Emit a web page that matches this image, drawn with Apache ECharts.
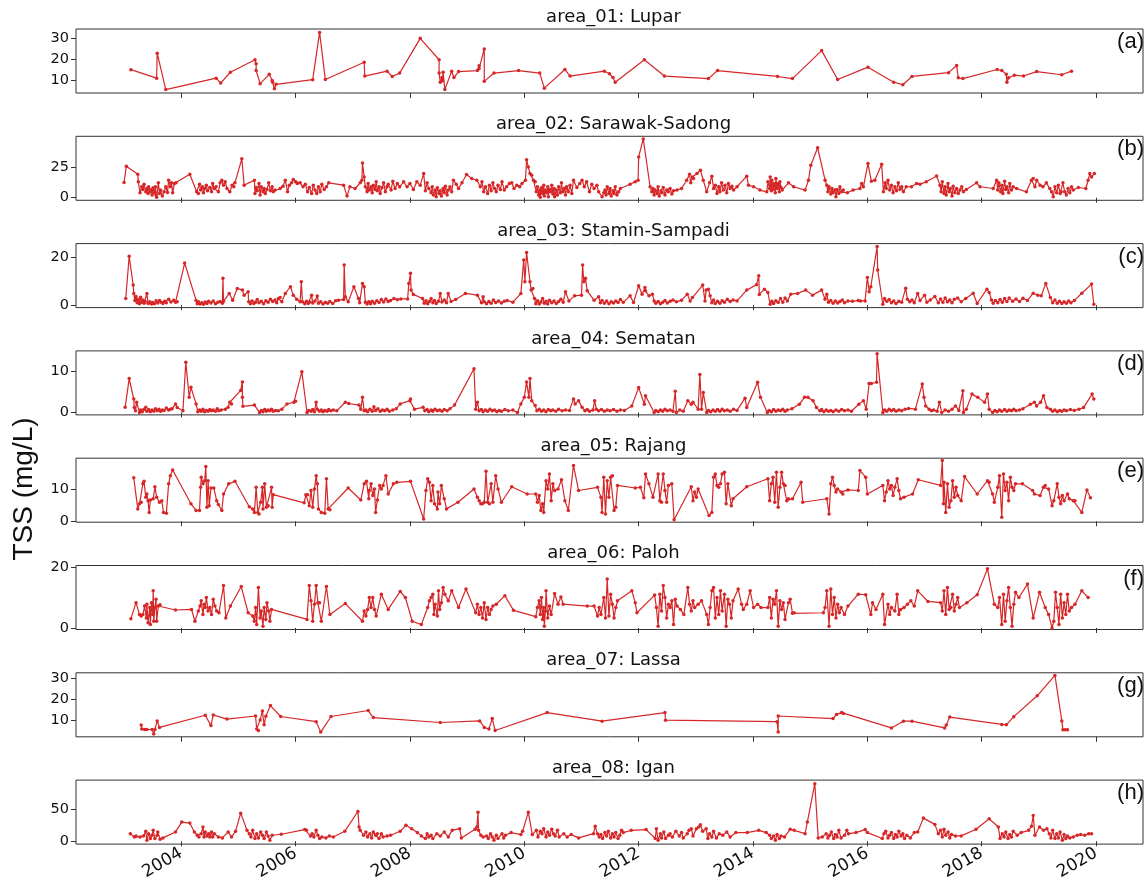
<!DOCTYPE html>
<html>
<head>
<meta charset="utf-8">
<script src="https://cdn.jsdelivr.net/npm/echarts@6/dist/echarts.min.js"></script>
<style>
html,body{margin:0;padding:0;background:#fff;}
#chart{width:1148px;height:883px;}
</style>
</head>
<body>
<div id="chart"></div>
<script>
// ---------------- DATA ----------------
const titles = ['area_01: Lupar','area_02: Sarawak-Sadong','area_03: Stamin-Sampadi','area_04: Sematan','area_05: Rajang','area_06: Paloh','area_07: Lassa','area_08: Igan'];
const panelLabels = ['(a)','(b)','(c)','(d)','(e)','(f)','(g)','(h)'];
const yAxisName = 'TSS (mg/L)';
const xTicks = [2004,2006,2008,2010,2012,2014,2016,2018,2020];
const xRange = [2002.16, 2020.82];
const yTicks = [[10,20,30],[0,25],[0,20],[0,10],[0,10],[0,20],[10,20,30],[0,50]];
const yRanges = [[4.2,34.4],[-2.1,49.9],[-1.0,25.7],[-0.6,15.1],[-0.3,19.9],[-0.5,20.5],[1.9,32.4],[-4.5,94.5]];

const area01 = [[2003.12,15.2],[2003.57,11.2],[2003.58,23.0],[2003.73,5.8],[2004.61,11.2],[2004.69,8.9],[2004.86,14.0],[2005.29,19.9],[2005.31,18.0],[2005.31,14.8],[2005.38,8.6],[2005.54,13.0],[2005.59,10.1],[2005.6,9.3],[2005.63,6.2],[2005.66,8.3],[2006.3,10.5],[2006.42,32.8],[2006.52,10.6],[2007.2,18.7],[2007.21,12.2],[2007.6,14.5],[2007.69,12.0],[2007.82,13.6],[2008.18,30.0],[2008.51,19.9],[2008.51,13.6],[2008.53,9.3],[2008.56,11.5],[2008.57,10.0],[2008.58,14.0],[2008.61,5.8],[2008.73,14.5],[2008.77,11.5],[2008.85,14.3],[2009.18,14.8],[2009.21,17.0],[2009.21,15.8],[2009.3,25.0],[2009.3,9.7],[2009.47,13.6],[2009.9,14.8],[2010.27,13.6],[2010.35,6.5],[2010.71,15.3],[2010.8,12.2],[2011.4,14.5],[2011.49,13.3],[2011.55,11.5],[2011.59,9.3],[2012.1,19.9],[2012.45,12.2],[2013.22,11.0],[2013.38,14.8],[2014.43,12.0],[2014.69,11.0],[2015.2,24.2],[2015.48,10.6],[2016.01,16.4],[2016.46,9.3],[2016.62,8.1],[2016.78,12.0],[2017.42,13.8],[2017.56,17.2],[2017.59,11.4],[2017.67,11.0],[2018.27,15.3],[2018.35,14.8],[2018.43,13.0],[2018.44,9.3],[2018.47,11.4],[2018.57,12.6],[2018.73,12.2],[2018.96,14.3],[2019.4,12.8],[2019.57,14.5]];

const area02 = [[2003.0,12.4],[2003.04,25.5],[2003.24,19.1],[2003.25,12.9],[2003.28,4.0],[2003.31,8.9],[2003.33,6.7],[2003.35,11.0],[2003.38,4.8],[2003.4,7.5],[2003.42,3.5],[2003.43,8.9],[2003.46,4.8],[2003.48,6.7],[2003.49,2.2],[2003.51,8.1],[2003.53,4.0],[2003.55,8.9],[2003.56,2.2],[2003.57,0.3],[2003.6,12.1],[2003.62,3.5],[2003.64,6.2],[2003.67,1.3],[2003.7,4.8],[2003.73,8.9],[2003.76,4.3],[2003.78,14.2],[2003.81,8.9],[2003.83,12.1],[2003.85,4.0],[2003.88,11.6],[2003.91,12.1],
[2004.15,19.1],[2004.27,4.8],[2004.3,3.5],[2004.32,11.0],[2004.34,6.2],[2004.37,8.9],[2004.39,4.0],[2004.41,7.5],[2004.44,10.2],[2004.46,5.6],[2004.5,8.3],[2004.53,4.8],[2004.55,11.6],[2004.58,7.5],[2004.61,8.9],[2004.65,4.8],[2004.68,12.1],[2004.71,14.2],[2004.74,10.2],[2004.77,12.9],[2004.8,7.5],[2004.85,4.8],[2004.89,10.2],[2004.92,8.9],[2004.94,12.1],
[2005.06,31.7],[2005.1,10.2],[2005.28,14.2],[2005.29,3.5],[2005.31,8.3],[2005.33,5.6],[2005.36,11.6],[2005.38,2.2],[2005.4,8.9],[2005.43,4.8],[2005.45,7.5],[2005.47,3.5],[2005.5,6.7],[2005.53,12.1],[2005.56,5.6],[2005.59,8.9],[2005.61,4.8],[2005.64,6.2],
[2005.73,7.5],[2005.78,9.4],[2005.82,14.2],[2005.86,4.8],[2005.89,10.2],[2005.93,12.1],[2005.96,14.8],[2006.0,12.9],[2006.03,11.6],[2006.08,12.1],[2006.13,8.9],[2006.17,11.0],[2006.21,4.8],[2006.24,8.3],[2006.28,3.5],[2006.31,10.2],[2006.34,6.2],[2006.37,3.5],[2006.4,8.9],[2006.43,4.8],[2006.46,11.0],[2006.5,6.7],[2006.54,8.9],[2006.58,12.1],
[2006.84,10.2],[2006.9,1.3],[2006.95,8.9],[2007.04,7.5],[2007.13,12.1],[2007.16,14.2],[2007.17,28.2],[2007.2,16.9],[2007.22,8.9],[2007.25,4.8],[2007.27,11.6],[2007.29,6.2],[2007.32,8.9],[2007.34,4.0],[2007.36,10.2],[2007.39,6.7],[2007.41,12.9],[2007.43,5.6],[2007.46,8.9],[2007.48,3.5],[2007.51,8.1],[2007.54,12.1],[2007.57,4.8],[2007.6,8.9],[2007.62,11.0],[2007.67,6.2],[2007.7,13.4],[2007.74,7.5],[2007.78,11.6],[2007.82,8.9],
[2007.89,12.9],[2007.95,8.9],[2008.0,11.6],[2008.06,6.7],[2008.12,12.9],[2008.18,10.2],[2008.24,19.6],[2008.27,5.6],[2008.3,12.1],[2008.33,7.5],[2008.37,4.0],[2008.39,8.9],[2008.41,2.2],[2008.44,6.2],[2008.46,0.8],[2008.48,8.1],[2008.51,3.5],[2008.53,5.6],[2008.55,1.3],[2008.58,7.5],[2008.6,4.0],[2008.62,9.4],[2008.65,2.2],[2008.67,6.2],[2008.7,8.9],[2008.73,4.8],[2008.76,14.2],[2008.81,11.0],[2008.85,7.5],[2008.91,12.1],[2008.99,18.8],[2009.08,15.6],[2009.17,14.2],[2009.23,8.9],[2009.26,12.9],[2009.29,4.8],[2009.32,8.9],[2009.36,3.5],[2009.39,10.2],[2009.42,5.6],[2009.45,12.1],[2009.48,7.5],[2009.51,4.8],[2009.54,10.2],[2009.58,6.7],[2009.61,12.9],[2009.65,6.2],[2009.69,8.9],[2009.74,11.6],[2009.78,12.1],[2009.82,7.5],[2009.87,10.2],[2009.92,8.9],[2009.96,11.6],[2010.02,14.2],
[2010.04,30.9],[2010.07,25.0],[2010.1,19.6],[2010.13,18.3],[2010.16,14.2],[2010.19,12.9],[2010.21,4.8],[2010.23,8.9],[2010.25,2.2],[2010.27,6.2],[2010.28,0.3],[2010.3,8.1],[2010.32,3.5],[2010.34,10.2],[2010.35,1.3],[2010.37,6.2],[2010.39,4.0],[2010.41,8.9],[2010.42,0.8],[2010.44,6.7],[2010.46,4.8],[2010.48,10.2],[2010.5,3.0],[2010.52,7.5],[2010.53,0.8],[2010.56,6.2],[2010.58,2.2],[2010.6,8.9],[2010.63,4.0],[2010.65,12.1],[2010.67,4.8],[2010.7,7.5],[2010.72,2.2],[2010.74,8.9],[2010.77,4.8],[2010.8,10.2],[2010.83,3.5],
[2010.86,14.2],[2010.92,8.3],[2010.97,11.6],[2011.01,14.2],[2011.05,8.9],[2011.09,12.9],[2011.14,4.8],[2011.18,11.0],[2011.22,7.5],[2011.27,10.2],[2011.3,4.8],[2011.36,0.8],[2011.39,4.0],[2011.41,6.2],[2011.43,2.2],[2011.45,8.9],[2011.48,3.5],[2011.5,7.5],[2011.52,1.3],[2011.55,5.6],[2011.57,3.5],[2011.59,8.9],[2011.62,2.2],[2011.65,4.8],[2011.68,7.5],
[2011.85,11.0],[2011.94,12.9],[2011.99,14.2],[2012.0,33.1],[2012.08,47.8],[2012.2,8.9],[2012.23,4.8],[2012.25,7.5],[2012.27,2.2],[2012.29,6.2],[2012.32,3.5],[2012.34,8.9],[2012.36,1.3],[2012.39,5.6],[2012.41,4.0],[2012.43,8.3],[2012.46,2.2],[2012.49,6.2],[2012.52,4.8],[2012.55,7.5],[2012.58,3.0],[2012.61,5.6],[2012.67,6.2],[2012.75,7.5],[2012.84,14.2],[2012.89,19.1],[2012.91,12.1],[2012.94,16.9],[2012.96,15.6],[2013.02,19.6],[2013.08,22.3],[2013.13,14.2],[2013.19,4.8],[2013.24,12.1],[2013.28,17.5],[2013.31,7.5],[2013.34,10.2],[2013.37,3.5],[2013.4,8.9],[2013.42,4.8],[2013.45,12.1],[2013.48,6.2],[2013.51,10.2],[2013.54,4.0],[2013.57,11.6],[2013.6,7.5],[2013.63,9.4],[2013.66,6.2],[2013.72,8.9],
[2013.89,17.5],[2013.92,10.2],[2014.01,8.9],[2014.12,6.2],[2014.24,4.8],[2014.26,12.9],[2014.29,7.5],[2014.3,16.9],[2014.32,5.6],[2014.33,14.2],[2014.35,6.7],[2014.37,11.6],[2014.39,4.0],[2014.4,15.6],[2014.42,7.5],[2014.44,11.6],[2014.46,4.8],[2014.47,12.9],[2014.49,8.3],[2014.51,6.2],[2014.62,12.1],[2014.71,8.9],
[2014.91,6.2],[2014.97,14.2],[2015.01,26.3],[2015.13,40.6],[2015.26,14.2],[2015.29,10.2],[2015.31,4.8],[2015.33,8.9],[2015.36,3.0],[2015.38,7.5],[2015.4,4.0],[2015.43,6.2],[2015.45,0.8],[2015.47,6.7],[2015.5,3.5],[2015.52,8.9],[2015.55,4.8],[2015.58,6.2],[2015.65,4.0],[2015.75,6.2],[2015.87,7.5],[2015.9,11.6],[2015.93,8.9],[2016.01,27.7],[2016.07,13.4],[2016.13,14.2],[2016.25,27.2],[2016.28,4.8],[2016.31,12.1],[2016.33,7.5],[2016.36,14.2],[2016.39,6.2],[2016.42,10.2],[2016.45,4.0],[2016.48,8.9],[2016.51,5.6],[2016.54,12.1],[2016.57,6.7],[2016.6,8.9],[2016.63,4.8],[2016.68,8.9],[2016.77,8.9],[2016.86,11.6],[2016.92,11.0],[2017.03,12.9],[2017.21,17.7],[2017.27,10.2],[2017.29,4.8],[2017.31,12.9],[2017.34,3.5],[2017.36,8.9],[2017.38,2.2],[2017.41,11.6],[2017.43,4.8],[2017.45,7.5],[2017.48,1.3],[2017.5,9.4],[2017.53,4.0],[2017.56,7.5],[2017.59,3.5],[2017.62,6.2],[2017.65,8.9],[2017.68,4.8],[2017.73,6.7],
[2017.91,12.1],[2017.97,8.9],[2018.2,7.5],[2018.26,14.2],[2018.28,6.2],[2018.3,12.1],[2018.33,4.8],[2018.35,10.2],[2018.37,3.5],[2018.4,13.4],[2018.42,6.7],[2018.44,8.9],[2018.47,4.0],[2018.49,11.6],[2018.52,6.2],[2018.55,8.9],[2018.61,7.5],[2018.78,4.8],[2018.87,14.2],[2018.9,15.6],[2018.93,8.9],[2018.96,14.2],[2019.02,10.2],[2019.07,8.9],[2019.13,12.1],[2019.19,7.5],[2019.22,4.8],[2019.25,0.8],[2019.28,8.9],[2019.31,4.0],[2019.34,10.2],[2019.37,3.5],[2019.39,4.8],[2019.42,12.1],[2019.45,4.8],[2019.48,2.2],[2019.51,7.5],[2019.54,4.0],[2019.57,8.9],[2019.6,6.2],[2019.69,8.3],[2019.82,7.5],[2019.86,14.2],[2019.89,19.6],[2019.92,16.9],[2019.97,19.6]];

const area03 = [[2003.03,2.8],[2003.09,20.4],[2003.16,8.4],[2003.17,4.9],[2003.19,2.0],[2003.21,3.6],[2003.23,1.0],[2003.25,2.4],[2003.27,0.6],[2003.29,3.3],[2003.31,1.2],[2003.33,2.2],[2003.35,0.8],[2003.37,1.5],[2003.4,4.9],[2003.42,0.7],[2003.45,1.4],[2003.48,0.5],[2003.5,1.1],[2003.53,0.6],[2003.56,1.9],[2003.59,0.9],[2003.62,2.0],[2003.65,1.2],[2003.68,0.7],[2003.71,1.6],[2003.74,1.0],[2003.78,2.5],[2003.82,1.3],[2003.87,2.1],[2003.9,1.2],[2003.93,1.4],
[2004.06,17.6],[2004.26,2.0],[2004.28,0.6],[2004.3,1.4],[2004.33,0.5],[2004.36,1.0],[2004.39,0.4],[2004.42,1.3],[2004.45,0.7],[2004.48,1.6],[2004.52,0.9],[2004.56,1.8],[2004.6,0.6],[2004.64,1.2],[2004.68,1.5],[2004.72,0.8],[2004.73,11.2],[2004.74,1.6],[2004.84,4.9],[2004.9,2.1],[2004.98,7.0],[2005.07,6.3],[2005.1,4.2],[2005.17,5.6],[2005.18,1.4],[2005.21,0.6],[2005.24,1.8],[2005.27,0.7],[2005.3,1.2],[2005.33,2.4],[2005.36,1.0],[2005.4,1.6],[2005.44,0.6],[2005.48,1.9],[2005.52,1.2],[2005.56,2.5],[2005.6,1.5],[2005.64,2.2],[2005.67,1.0],[2005.7,2.8],[2005.73,3.2],[2005.76,1.4],[2005.82,4.9],[2005.91,7.7],[2005.96,4.2],[2006.02,2.5],[2006.08,1.4],[2006.1,9.8],[2006.12,1.4],[2006.16,0.6],[2006.19,1.6],[2006.22,0.7],[2006.25,1.3],[2006.28,4.2],[2006.3,0.9],[2006.34,1.8],[2006.38,3.8],[2006.4,0.8],[2006.44,1.4],[2006.48,0.5],[2006.52,1.2],[2006.56,0.8],[2006.6,1.5],[2006.65,0.7],[2006.7,1.9],[2006.75,2.1],[2006.84,2.4],[2006.85,16.8],[2006.87,3.5],[2006.92,1.4],[2007.02,7.7],[2007.1,2.8],[2007.12,1.0],[2007.17,9.1],[2007.2,7.7],[2007.22,1.2],[2007.25,0.5],[2007.28,1.4],[2007.31,0.6],[2007.34,1.7],[2007.38,0.8],[2007.42,1.9],[2007.46,1.1],[2007.5,2.4],[2007.54,1.3],[2007.58,2.6],[2007.62,1.5],[2007.66,2.0],[2007.72,2.8],[2007.78,2.3],[2007.84,2.6],[2007.96,2.6],[2007.98,9.1],[2008.01,13.3],[2008.02,6.3],[2008.06,4.5],[2008.22,2.8],[2008.25,0.8],[2008.28,1.9],[2008.31,0.6],[2008.34,1.5],[2008.37,2.8],[2008.4,1.0],[2008.43,2.0],[2008.46,0.7],[2008.5,1.6],[2008.53,4.9],[2008.56,1.3],[2008.6,2.2],[2008.64,1.0],[2008.67,4.9],[2008.72,1.5],[2008.8,2.4],[2008.97,4.9],[2009.18,4.2],[2009.25,1.0],[2009.28,3.5],[2009.3,1.4],[2009.34,0.6],[2009.38,1.5],[2009.42,0.8],[2009.46,2.2],[2009.5,1.1],[2009.55,1.8],[2009.6,0.9],[2009.65,1.6],[2009.7,2.0],[2009.8,1.2],[2009.94,4.9],[2009.99,18.9],[2010.01,9.8],[2010.04,22.0],[2010.1,9.8],[2010.12,6.3],[2010.15,7.0],[2010.18,2.8],[2010.2,0.6],[2010.23,1.9],[2010.26,0.5],[2010.29,1.3],[2010.32,2.8],[2010.35,0.8],[2010.38,1.6],[2010.41,0.5],[2010.44,2.1],[2010.48,1.0],[2010.52,1.8],[2010.56,0.7],[2010.6,1.5],[2010.64,2.5],[2010.68,1.2],[2010.72,5.6],[2010.78,1.8],[2010.88,3.9],[2011.0,4.2],[2011.02,16.8],[2011.04,9.8],[2011.07,11.2],[2011.1,6.0],[2011.22,2.1],[2011.3,3.5],[2011.33,1.0],
[2011.36,2.0],[2011.4,0.8],[2011.44,1.8],[2011.48,0.6],[2011.52,1.4],[2011.56,0.9],[2011.6,1.8],[2011.64,1.1],[2011.68,2.4],[2011.73,1.2],[2011.85,3.9],[2011.91,1.1],[2012.0,8.1],[2012.06,4.6],[2012.11,7.4],[2012.12,6.0],[2012.18,3.9],[2012.24,4.6],[2012.27,1.8],[2012.3,0.8],[2012.34,1.5],[2012.38,0.6],[2012.42,1.2],[2012.46,2.0],[2012.5,0.9],[2012.55,1.6],[2012.6,2.2],[2012.66,1.4],[2012.75,2.1],[2012.85,4.6],[2012.9,1.8],[2012.94,3.2],[2013.12,8.4],[2013.16,1.8],[2013.18,6.3],[2013.22,6.7],[2013.25,3.9],[2013.28,1.0],[2013.31,2.2],[2013.34,0.7],[2013.38,1.6],[2013.42,0.8],[2013.46,1.9],[2013.5,1.2],[2013.55,2.5],[2013.6,1.5],[2013.65,2.2],[2013.72,1.8],[2013.89,6.3],[2014.06,8.5],[2014.1,12.3],[2014.11,4.5],[2014.2,6.7],[2014.26,5.3],[2014.3,0.4],[2014.33,1.6],[2014.36,0.7],[2014.4,1.9],[2014.44,1.1],[2014.48,2.8],[2014.52,1.2],[2014.56,3.0],[2014.6,1.8],[2014.66,4.6],[2014.78,4.9],[2014.92,6.3],[2015.04,4.2],[2015.2,6.3],[2015.26,2.5],[2015.29,4.6],[2015.32,1.2],[2015.36,2.0],[2015.4,0.8],[2015.44,1.8],[2015.48,0.9],[2015.52,1.5],[2015.56,2.2],[2015.6,1.0],[2015.66,1.8],[2015.74,1.6],[2015.84,2.0],[2015.88,1.8],[2015.96,1.8],[2016.0,11.6],[2016.03,5.6],[2016.06,7.7],[2016.17,24.5],[2016.18,14.7],[2016.27,0.4],[2016.3,2.8],[2016.34,1.6],[2016.38,2.4],[2016.42,1.0],[2016.46,1.8],[2016.5,0.7],[2016.55,1.6],[2016.6,1.2],[2016.67,7.1],[2016.7,2.5],[2016.74,1.4],[2016.78,2.2],[2016.82,1.0],[2016.88,4.9],[2016.92,2.0],[2017.0,4.2],[2017.04,1.2],[2017.1,2.2],[2017.18,3.6],[2017.24,1.0],[2017.28,2.6],[2017.32,1.2],[2017.36,3.0],[2017.4,1.4],[2017.44,2.2],[2017.48,1.0],[2017.52,2.5],[2017.58,3.0],[2017.64,1.4],[2017.72,2.8],[2017.85,5.0],[2017.92,0.7],[2018.09,6.7],[2018.13,5.3],[2018.17,2.2],[2018.2,0.8],[2018.24,2.0],[2018.28,1.0],[2018.32,2.4],[2018.36,1.2],[2018.4,2.8],[2018.44,1.5],[2018.48,3.0],[2018.54,1.7],[2018.6,2.6],[2018.66,1.5],[2018.72,2.9],[2018.8,2.0],[2018.9,5.0],[2018.98,4.2],[2019.04,3.9],[2019.12,9.1],[2019.2,3.2],[2019.24,1.0],[2019.28,2.2],[2019.32,0.8],[2019.36,1.6],[2019.4,0.7],[2019.44,1.4],[2019.48,0.8],[2019.52,1.8],[2019.56,1.0],[2019.62,2.0],[2019.75,5.0],[2019.92,8.8],[2019.96,0.4]];

const area04 = [[2003.02,1.25],[2003.09,8.3],[2003.17,3.3],[2003.18,1.2],[2003.2,0.4],[2003.22,2.5],[2003.27,0.0],[2003.29,0.6],[2003.32,0.2],[2003.35,0.8],[2003.38,1.25],[2003.4,0.3],[2003.43,0.7],[2003.46,0.2],[2003.49,0.6],[2003.52,0.3],[2003.55,0.9],[2003.58,0.4],[2003.61,0.8],[2003.64,0.3],[2003.67,0.6],[2003.7,0.5],[2003.74,1.1],[2003.78,0.6],[2003.81,0.8],[2003.84,0.9],[2003.9,2.1],[2003.93,1.2],[2004.03,0.4],[2004.08,12.3],[2004.14,3.7],[2004.17,6.2],[2004.26,2.1],[2004.29,0.2],[2004.32,0.6],[2004.35,0.3],[2004.38,0.8],[2004.41,0.2],[2004.44,0.5],[2004.47,0.3],[2004.5,0.7],[2004.53,0.4],[2004.56,0.6],[2004.6,0.3],[2004.63,0.9],[2004.66,0.4],[2004.7,0.6],[2004.77,0.8],[2004.82,1.25],[2004.85,2.5],[2004.88,2.1],[2005.04,5.4],[2005.07,7.5],[2005.07,3.7],[2005.08,1.5],[2005.28,1.8],[2005.37,0.0],[2005.4,0.5],[2005.43,0.2],[2005.46,0.7],[2005.49,0.3],[2005.52,0.6],[2005.55,0.4],[2005.58,0.8],[2005.61,0.3],[2005.65,0.5],[2005.7,0.4],[2005.76,0.8],[2005.85,2.1],[2005.97,2.5],[2006.0,2.75],[2006.11,10.0],[2006.2,0.0],[2006.23,0.5],[2006.27,0.3],[2006.3,0.7],[2006.33,0.2],[2006.36,2.5],[2006.38,0.8],[2006.42,0.3],[2006.45,0.6],[2006.48,0.2],[2006.51,0.5],[2006.55,0.3],[2006.58,0.7],[2006.62,0.4],[2006.66,0.6],[2006.72,0.4],[2006.87,2.5],[2006.93,2.2],[2007.11,1.8],[2007.14,0.8],[2007.17,3.7],[2007.2,0.4],[2007.23,0.6],[2007.26,0.2],[2007.3,0.8],[2007.34,0.3],[2007.37,1.4],[2007.4,0.5],[2007.44,0.9],[2007.48,0.3],[2007.52,0.6],[2007.56,0.4],[2007.6,0.8],[2007.64,0.3],[2007.7,0.6],[2007.76,0.9],[2007.83,2.1],[2008.0,2.9],[2008.01,3.3],[2008.08,0.8],[2008.23,1.25],[2008.26,0.4],[2008.3,0.7],[2008.33,0.2],[2008.37,0.6],[2008.4,0.3],[2008.44,0.8],[2008.48,0.4],[2008.52,0.6],[2008.56,0.3],[2008.6,0.7],[2008.65,0.4],[2008.7,0.9],[2008.78,1.8],[2009.12,10.7],[2009.15,0.8],[2009.18,2.5],[2009.21,0.4],[2009.25,0.7],[2009.28,0.2],[2009.32,0.6],[2009.36,0.3],[2009.4,0.8],[2009.44,0.4],[2009.48,0.6],[2009.52,0.2],[2009.56,0.5],[2009.6,0.3],[2009.66,0.7],[2009.72,0.4],[2009.8,0.6],[2009.88,0.0],[2009.94,2.1],[2010.0,3.7],[2010.04,7.5],[2010.08,3.7],[2010.1,8.3],[2010.13,2.9],[2010.19,1.7],[2010.22,0.4],[2010.26,0.8],[2010.3,0.3],[2010.34,0.6],[2010.38,0.2],[2010.42,0.7],[2010.46,0.4],[2010.5,0.6],[2010.55,0.3],[2010.6,0.8],[2010.66,0.4],[2010.72,0.6],[2010.79,0.5],[2010.86,3.3],[2010.89,2.1],[2010.95,2.9],[2011.01,1.25],[2011.06,0.4],[2011.1,0.7],[2011.14,0.3],[2011.2,0.6],[2011.23,2.9],[2011.26,0.8],[2011.3,0.4],[2011.35,0.7],[2011.4,0.3],[2011.45,0.6],[2011.5,0.4],[2011.56,0.7],[2011.62,0.3],[2011.68,0.6],[2011.75,0.5],[2011.88,1.6],[2012.0,6.1],[2012.1,2.0],[2012.12,4.1],[2012.27,0.0],[2012.3,0.5],[2012.34,0.2],[2012.38,0.6],[2012.42,0.3],[2012.46,0.8],[2012.5,0.4],[2012.55,0.6],[2012.6,0.3],[2012.64,5.2],[2012.66,0.0],[2012.72,0.6],[2012.78,0.3],[2012.86,2.9],[2012.92,2.0],[2012.95,2.5],[2013.04,0.8],[2013.07,9.3],[2013.1,0.8],[2013.13,4.9],[2013.19,0.0],[2013.22,0.5],[2013.26,0.2],[2013.3,0.6],[2013.34,0.3],[2013.38,0.7],[2013.42,0.3],[2013.46,0.8],[2013.5,0.4],[2013.55,0.6],[2013.6,0.3],[2013.66,0.8],[2013.72,0.5],[2013.86,3.5],[2013.89,1.2],[2014.08,7.4],[2014.13,3.7],[2014.25,0.0],[2014.28,0.5],[2014.32,0.2],[2014.36,0.7],[2014.4,0.3],[2014.44,0.6],[2014.48,0.4],[2014.52,0.8],[2014.56,0.3],[2014.6,0.6],[2014.68,0.9],[2014.81,2.0],[2014.9,3.7],[2014.96,3.7],[2015.05,2.9],[2015.11,1.2],[2015.17,0.4],[2015.2,0.7],[2015.24,0.2],[2015.28,0.6],[2015.32,0.3],[2015.36,0.5],[2015.4,0.2],[2015.45,0.6],[2015.5,0.3],[2015.55,0.7],[2015.6,0.4],[2015.66,0.6],[2015.72,0.3],[2015.85,2.0],[2015.93,2.9],[2015.98,0.8],[2016.03,7.1],[2016.07,7.1],[2016.16,7.4],[2016.17,14.4],[2016.27,0.0],[2016.3,0.6],[2016.34,0.3],[2016.38,0.8],[2016.42,0.4],[2016.46,0.7],[2016.5,0.3],[2016.55,0.6],[2016.6,0.4],[2016.66,0.8],[2016.72,1.0],[2016.84,0.8],[2016.96,7.0],[2016.99,3.7],[2017.02,1.6],[2017.08,0.8],[2017.12,0.4],[2017.16,0.6],[2017.22,0.3],[2017.26,2.5],[2017.3,0.0],[2017.36,0.6],[2017.42,0.3],[2017.48,0.8],[2017.54,1.6],[2017.6,0.5],[2017.67,5.3],[2017.68,0.0],[2017.73,0.8],[2017.83,4.5],[2017.93,3.7],[2018.05,2.5],[2018.1,4.5],[2018.13,0.8],[2018.19,0.0],[2018.23,0.5],[2018.27,0.2],[2018.31,0.6],[2018.35,0.3],[2018.4,0.7],[2018.44,0.3],[2018.48,0.6],[2018.52,0.4],[2018.56,0.8],[2018.6,0.4],[2018.66,0.6],[2018.72,0.9],[2018.85,2.0],[2018.92,2.5],[2018.96,1.6],[2019.03,2.5],[2019.08,4.1],[2019.14,1.2],[2019.2,0.8],[2019.24,0.3],[2019.28,0.6],[2019.32,0.2],[2019.36,0.5],[2019.4,0.3],[2019.44,0.6],[2019.48,0.4],[2019.55,0.7],[2019.62,0.5],[2019.7,0.8],[2019.78,1.2],[2019.93,4.5],[2019.96,3.3]];

const area05 = [[2003.17,13.7],[2003.24,3.9],[2003.27,5.5],[2003.3,6.0],[2003.33,11.8],[2003.35,12.6],[2003.38,7.6],[2003.4,8.6],[2003.42,6.5],[2003.44,2.8],[2003.46,6.7],[2003.51,7.1],[2003.54,10.9],[2003.57,7.6],[2003.62,6.0],[2003.66,6.5],[2003.69,2.8],[2003.74,2.5],[2003.78,11.8],[2003.81,14.4],[2003.85,16.2],[2004.17,5.5],[2004.26,3.4],[2004.32,3.4],[2004.34,10.7],[2004.35,13.9],[2004.38,11.8],[2004.41,12.8],[2004.43,17.3],[2004.45,4.4],[2004.47,12.8],[2004.49,4.9],[2004.52,10.5],[2004.57,10.5],[2004.62,6.5],[2004.65,5.3],[2004.71,3.4],[2004.74,8.6],[2004.83,11.8],[2004.94,12.6],[2005.19,4.6],[2005.25,3.9],[2005.28,2.8],[2005.31,10.7],[2005.34,2.8],[2005.36,2.3],[2005.39,6.0],[2005.42,10.7],[2005.43,3.9],[2005.46,11.8],[2005.49,4.4],[2005.52,4.9],[2005.58,10.7],[2005.59,4.4],[2005.61,8.4],[2006.15,5.8],[2006.18,8.4],[2006.21,8.4],[2006.24,4.9],[2006.27,9.7],[2006.3,4.4],[2006.33,10.2],[2006.36,14.4],[2006.38,11.8],[2006.4,3.9],[2006.45,2.8],[2006.51,2.5],[2006.54,13.4],[2006.57,3.9],[2006.6,3.6],[2006.92,10.5],[2007.14,6.7],[2007.2,11.8],[2007.24,12.6],[2007.28,7.1],[2007.29,9.7],[2007.32,11.8],[2007.35,8.1],[2007.38,10.2],[2007.4,2.8],[2007.43,6.7],[2007.47,11.3],[2007.5,10.2],[2007.53,11.3],[2007.58,14.4],[2007.62,8.6],[2007.71,11.8],[2007.77,12.3],[2008.01,12.6],[2008.24,0.7],[2008.28,9.7],[2008.31,13.4],[2008.34,12.3],[2008.37,6.5],[2008.4,11.3],[2008.43,5.5],[2008.48,3.9],[2008.49,9.2],[2008.52,5.5],[2008.55,11.3],[2008.6,7.1],[2008.64,3.9],[2008.84,6.0],[2009.12,10.2],[2009.18,7.6],[2009.21,6.5],[2009.24,5.5],[2009.27,5.5],[2009.3,6.0],[2009.33,15.8],[2009.36,6.0],[2009.39,5.5],[2009.42,11.8],[2009.45,6.0],[2009.5,14.4],[2009.54,10.2],[2009.6,6.0],[2009.78,10.9],[2010.05,8.6],[2010.2,8.6],[2010.23,6.0],[2010.26,8.1],[2010.29,3.4],[2010.32,5.5],[2010.34,2.8],[2010.38,12.8],[2010.41,10.2],[2010.44,14.9],[2010.47,6.5],[2010.5,11.8],[2010.53,9.7],[2010.59,10.2],[2010.65,13.1],[2010.71,6.5],[2010.77,3.4],[2010.86,17.6],[2010.95,9.7],[2011.28,10.7],[2011.34,7.6],[2011.36,2.8],[2011.39,13.9],[2011.42,2.3],[2011.45,12.8],[2011.48,7.6],[2011.51,13.9],[2011.54,14.4],[2011.57,3.4],[2011.6,4.4],[2011.63,11.3],[2011.94,10.5],[2012.03,10.7],[2012.09,7.4],[2012.12,14.9],[2012.18,11.8],[2012.25,7.6],[2012.34,14.9],[2012.37,6.5],[2012.4,6.0],[2012.43,14.9],[2012.46,9.7],[2012.49,6.0],[2012.52,11.3],[2012.58,11.8],[2012.62,0.5],[2012.92,10.9],[2012.95,6.5],[2012.98,9.2],[2013.01,7.6],[2013.04,10.2],[2013.23,1.8],[2013.28,2.8],[2013.31,13.9],[2013.34,14.9],[2013.37,11.3],[2013.4,10.7],[2013.43,11.8],[2013.46,14.9],[2013.5,15.5],[2013.53,5.5],[2013.56,11.8],[2013.62,4.9],[2013.65,7.1],[2013.89,10.9],[2014.26,13.4],[2014.29,6.5],[2014.32,11.8],[2014.35,13.9],[2014.38,6.0],[2014.41,15.5],[2014.44,4.4],[2014.47,10.7],[2014.5,15.5],[2014.53,11.8],[2014.56,11.3],[2014.59,6.5],[2014.62,7.1],[2014.69,7.1],[2014.84,12.3],[2014.87,6.0],[2015.29,7.1],[2015.33,2.3],[2015.36,11.8],[2015.39,13.9],[2015.42,11.3],[2015.45,9.2],[2015.48,10.2],[2015.54,9.2],[2015.57,8.6],[2015.66,9.9],[2015.84,9.7],[2015.87,16.0],[2015.97,13.9],[2016.0,8.6],[2016.27,11.3],[2016.3,6.5],[2016.33,9.2],[2016.36,12.8],[2016.39,10.2],[2016.42,11.3],[2016.45,8.1],[2016.48,10.7],[2016.52,13.4],[2016.55,9.7],[2016.58,7.1],[2016.64,7.6],[2016.79,8.6],[2016.89,13.1],[2017.28,11.3],[2017.31,19.2],[2017.33,5.5],[2017.34,12.3],[2017.37,2.8],[2017.4,11.8],[2017.43,4.4],[2017.46,6.5],[2017.49,12.8],[2017.52,7.6],[2017.55,10.7],[2017.58,8.1],[2017.64,6.5],[2017.7,14.1],[2017.92,8.6],[2018.1,12.8],[2018.13,12.3],[2018.19,8.6],[2018.22,6.0],[2018.28,10.7],[2018.31,14.4],[2018.35,1.3],[2018.38,14.9],[2018.41,9.7],[2018.44,12.3],[2018.47,6.5],[2018.5,13.9],[2018.53,10.7],[2018.56,9.7],[2018.59,11.8],[2018.71,11.8],[2018.89,9.7],[2018.92,8.6],[2019.02,8.1],[2019.08,10.7],[2019.11,11.3],[2019.17,10.2],[2019.23,4.9],[2019.26,6.5],[2019.32,11.8],[2019.35,7.6],[2019.38,5.5],[2019.41,8.1],[2019.44,6.5],[2019.5,8.6],[2019.53,7.1],[2019.6,6.5],[2019.63,6.5],[2019.75,2.8],[2019.84,9.9],[2019.9,7.4]];

const area06 = [[2003.12,3.0],[2003.21,8.3],[2003.27,4.4],[2003.3,3.9],[2003.33,4.4],[2003.36,7.2],[2003.39,3.3],[2003.4,7.8],[2003.42,1.7],[2003.45,6.7],[2003.46,1.1],[2003.48,8.3],[2003.5,4.4],[2003.51,12.2],[2003.52,2.2],[2003.54,6.7],[2003.56,9.4],[2003.57,2.2],[2003.6,7.2],[2003.63,7.6],[2003.9,5.9],[2004.18,6.1],[2004.24,2.2],[2004.3,5.6],[2004.33,7.2],[2004.35,8.9],[2004.38,4.4],[2004.4,7.8],[2004.42,6.7],[2004.44,10.0],[2004.47,5.6],[2004.5,6.7],[2004.53,4.4],[2004.56,9.4],[2004.59,7.2],[2004.62,5.6],[2004.66,5.0],[2004.74,13.9],[2004.78,3.3],[2004.86,7.2],[2005.05,13.6],[2005.17,5.0],[2005.25,3.9],[2005.28,2.2],[2005.3,6.7],[2005.32,1.1],[2005.35,13.3],[2005.38,3.3],[2005.4,5.6],[2005.43,0.6],[2005.45,6.7],[2005.48,2.8],[2005.5,8.3],[2005.53,5.6],[2005.55,2.2],[2005.58,6.1],[2006.2,2.8],[2006.24,13.9],[2006.27,8.9],[2006.3,2.2],[2006.33,7.8],[2006.36,13.9],[2006.39,8.3],[2006.42,8.3],[2006.45,2.2],[2006.54,13.6],[2006.6,4.4],[2006.87,8.0],[2007.17,2.2],[2007.2,5.6],[2007.23,3.9],[2007.26,6.1],[2007.29,10.0],[2007.32,6.7],[2007.35,10.0],[2007.38,6.1],[2007.41,3.9],[2007.5,11.1],[2007.62,6.1],[2007.83,12.0],[2007.92,10.0],[2008.04,2.2],[2008.2,1.1],[2008.31,6.7],[2008.34,8.9],[2008.37,10.0],[2008.4,11.1],[2008.42,4.4],[2008.44,7.8],[2008.48,3.9],[2008.5,12.2],[2008.52,6.1],[2008.55,8.3],[2008.58,13.3],[2008.61,11.1],[2008.67,8.9],[2008.73,12.2],[2008.85,6.7],[2008.98,12.8],[2009.15,5.0],[2009.18,7.8],[2009.21,4.4],[2009.24,6.7],[2009.27,3.3],[2009.3,8.3],[2009.33,2.8],[2009.36,6.7],[2009.39,4.4],[2009.42,6.1],[2009.45,7.2],[2009.51,7.8],[2009.66,10.6],[2009.81,5.8],[2010.2,3.7],[2010.23,6.7],[2010.26,8.9],[2010.28,4.4],[2010.3,10.0],[2010.32,2.8],[2010.34,6.7],[2010.35,0.6],[2010.37,5.6],[2010.38,12.2],[2010.41,3.3],[2010.44,7.2],[2010.47,4.4],[2010.53,11.3],[2010.59,7.8],[2010.64,10.2],[2010.68,7.8],[2011.1,7.2],[2011.22,7.2],[2011.28,3.9],[2011.31,6.7],[2011.34,4.4],[2011.39,10.0],[2011.42,3.3],[2011.45,16.1],[2011.48,3.9],[2011.51,11.1],[2011.54,7.8],[2011.57,3.3],[2011.6,6.7],[2011.63,8.9],[2011.88,12.2],[2011.94,8.3],[2011.97,5.0],[2012.28,10.8],[2012.31,6.7],[2012.34,0.6],[2012.37,11.1],[2012.4,5.6],[2012.43,13.9],[2012.46,10.0],[2012.49,3.3],[2012.52,7.8],[2012.55,6.7],[2012.58,8.9],[2012.61,1.1],[2012.64,9.4],[2012.67,7.2],[2012.73,6.1],[2012.79,4.4],[2012.86,13.3],[2012.89,7.8],[2012.92,5.6],[2012.95,8.9],[2012.98,6.7],[2013.04,7.8],[2013.1,8.9],[2013.19,4.4],[2013.22,1.1],[2013.25,6.7],[2013.28,12.2],[2013.31,13.3],[2013.34,3.3],[2013.37,10.0],[2013.4,4.4],[2013.43,12.2],[2013.46,5.6],[2013.5,11.1],[2013.53,0.6],[2013.56,9.4],[2013.59,7.8],[2013.62,3.3],[2013.65,8.9],[2013.74,12.8],[2013.8,7.8],[2013.83,6.1],[2013.89,7.8],[2013.95,12.2],[2014.01,6.7],[2014.08,7.8],[2014.14,6.7],[2014.26,6.7],[2014.29,10.0],[2014.32,3.3],[2014.35,9.4],[2014.38,7.8],[2014.41,12.2],[2014.44,0.6],[2014.47,8.9],[2014.5,6.1],[2014.53,8.3],[2014.56,2.8],[2014.62,8.3],[2014.65,9.4],[2014.69,4.8],[2014.72,5.0],[2015.23,5.0],[2015.26,6.7],[2015.29,12.2],[2015.33,0.6],[2015.36,12.8],[2015.39,4.4],[2015.42,10.0],[2015.45,3.3],[2015.48,7.8],[2015.51,5.0],[2015.54,6.7],[2015.6,4.4],[2015.66,7.2],[2015.84,11.1],[2015.97,10.9],[2016.06,4.4],[2016.09,8.3],[2016.15,6.1],[2016.27,11.1],[2016.3,1.1],[2016.36,7.8],[2016.39,4.4],[2016.42,6.7],[2016.48,5.6],[2016.52,11.1],[2016.55,4.4],[2016.58,6.1],[2016.64,6.7],[2016.7,7.8],[2016.76,8.9],[2016.82,7.2],[2016.88,12.2],[2017.06,8.7],[2017.28,8.3],[2017.31,5.6],[2017.34,12.2],[2017.37,4.4],[2017.4,13.3],[2017.43,6.1],[2017.46,6.7],[2017.49,11.1],[2017.52,5.6],[2017.55,7.8],[2017.58,10.0],[2017.61,6.7],[2017.74,8.3],[2017.92,10.9],[2018.1,19.4],[2018.22,7.8],[2018.28,6.7],[2018.31,10.0],[2018.35,1.1],[2018.38,11.1],[2018.41,2.2],[2018.44,8.9],[2018.47,13.3],[2018.5,6.7],[2018.53,0.6],[2018.56,7.8],[2018.59,11.7],[2018.65,10.0],[2018.8,14.4],[2018.9,3.3],[2019.01,11.7],[2019.11,6.7],[2019.17,4.4],[2019.23,0.0],[2019.26,2.2],[2019.29,11.7],[2019.32,6.7],[2019.35,1.1],[2019.38,11.1],[2019.41,3.3],[2019.44,8.3],[2019.47,4.4],[2019.5,11.1],[2019.53,5.6],[2019.57,6.7],[2019.63,7.8],[2019.75,12.2],[2019.86,10.0]];

const area07 = [[2003.3,7.48],[2003.31,5.62],[2003.36,5.37],[2003.4,5.37],[2003.49,5.37],[2003.52,3.26],[2003.54,5.37],[2003.58,9.46],[2003.62,6.36],[2004.42,12.19],[2004.52,7.23],[2004.56,12.32],[2004.8,10.33],[2005.3,11.82],[2005.32,5.62],[2005.35,4.88],[2005.38,9.96],[2005.42,14.18],[2005.45,7.6],[2005.48,11.7],[2005.56,16.78],[2005.74,11.57],[2006.36,9.09],[2006.44,4.13],[2006.62,11.57],[2007.27,14.42],[2007.36,11.08],[2008.53,8.72],[2009.22,9.46],[2009.3,6.36],[2009.38,5.62],[2009.44,10.58],[2009.49,4.88],[2010.4,13.43],[2011.36,9.34],[2012.46,13.43],[2012.47,9.84],[2014.42,9.09],[2014.44,4.13],[2014.44,11.82],[2015.4,10.58],[2015.46,12.56],[2015.55,13.43],[2015.58,13.06],[2016.42,6.12],[2016.63,9.34],[2016.78,9.34],[2017.35,6.12],[2017.38,7.48],[2017.44,11.32],[2018.35,7.79],[2018.43,7.6],[2018.56,11.51],[2018.97,21.43],[2019.28,31.16],[2019.4,9.46],[2019.42,5.31],[2019.46,5.31],[2019.5,5.31]];

const area08 = [[2003.11,11.7],[2003.18,6.6],[2003.21,8.2],[2003.28,6.6],[2003.34,8.2],[2003.38,15.3],[2003.4,1.5],[2003.43,11.7],[2003.46,4.1],[2003.49,9.2],[2003.51,16.8],[2003.54,4.1],[2003.58,9.2],[2003.59,14.3],[2003.63,3.1],[2003.68,5.1],[2003.9,14.3],[2004.01,29.6],[2004.15,28.0],[2004.23,14.3],[2004.28,9.2],[2004.31,6.6],[2004.35,11.7],[2004.38,21.9],[2004.4,6.6],[2004.42,14.3],[2004.45,8.2],[2004.48,11.7],[2004.5,6.6],[2004.53,14.3],[2004.55,6.6],[2004.58,11.7],[2004.65,6.6],[2004.72,5.1],[2004.82,14.3],[2004.88,6.6],[2004.95,15.3],[2005.04,43.4],[2005.15,16.8],[2005.19,11.7],[2005.22,6.6],[2005.25,16.8],[2005.29,4.1],[2005.32,11.7],[2005.35,5.1],[2005.39,14.3],[2005.42,9.2],[2005.45,4.1],[2005.49,14.3],[2005.52,8.2],[2005.55,1.5],[2005.59,9.2],[2005.75,10.7],[2006.16,17.9],[2006.19,16.8],[2006.26,8.2],[2006.29,11.7],[2006.32,6.6],[2006.36,16.8],[2006.39,9.2],[2006.42,4.1],[2006.46,6.6],[2006.53,5.1],[2006.59,8.2],[2006.66,6.6],[2006.86,15.3],[2007.09,45.9],[2007.11,21.9],[2007.13,16.8],[2007.19,9.2],[2007.23,14.3],[2007.26,6.6],[2007.3,11.7],[2007.33,5.1],[2007.36,14.3],[2007.4,9.2],[2007.43,11.7],[2007.46,4.1],[2007.5,11.7],[2007.53,6.6],[2007.6,8.2],[2007.66,9.2],[2007.83,15.3],[2007.93,24.5],[2008.03,19.4],[2008.13,13.3],[2008.2,8.2],[2008.27,4.1],[2008.3,11.7],[2008.33,6.6],[2008.37,9.2],[2008.4,4.1],[2008.47,11.7],[2008.53,8.2],[2008.6,14.3],[2008.67,6.6],[2008.74,16.8],[2008.87,19.4],[2008.9,5.1],[2009.14,18.4],[2009.17,21.9],[2009.19,44.9],[2009.2,16.8],[2009.24,9.2],[2009.28,6.6],[2009.34,8.2],[2009.37,4.1],[2009.41,11.7],[2009.44,6.6],[2009.47,1.5],[2009.51,9.2],[2009.54,4.1],[2009.61,11.7],[2009.64,5.1],[2009.67,9.2],[2009.77,13.3],[2009.94,10.2],[2009.97,15.3],[2010.07,44.9],[2010.14,10.2],[2010.21,16.8],[2010.24,6.6],[2010.28,15.3],[2010.31,11.7],[2010.34,19.4],[2010.38,6.6],[2010.41,14.3],[2010.44,9.2],[2010.48,18.4],[2010.51,11.7],[2010.54,8.2],[2010.58,16.8],[2010.61,6.6],[2010.69,11.7],[2010.75,6.6],[2010.82,10.2],[2010.95,5.1],[2011.21,11.7],[2011.24,23.0],[2011.28,11.7],[2011.31,6.6],[2011.34,10.2],[2011.37,4.1],[2011.41,13.3],[2011.44,8.2],[2011.47,15.3],[2011.51,5.1],[2011.54,11.7],[2011.57,6.6],[2011.6,13.3],[2011.64,4.1],[2011.67,9.2],[2011.7,16.8],[2011.73,13.3],[2011.87,16.8],[2012.13,17.9],[2012.29,4.1],[2012.31,19.4],[2012.34,1.5],[2012.38,11.7],[2012.4,5.1],[2012.44,14.3],[2012.47,4.1],[2012.52,9.2],[2012.55,11.7],[2012.59,6.6],[2012.65,15.3],[2012.71,8.2],[2012.75,13.3],[2012.78,5.1],[2012.85,11.7],[2012.88,16.8],[2012.92,19.4],[2012.95,8.2],[2013.01,19.4],[2013.05,21.9],[2013.08,25.5],[2013.12,15.3],[2013.18,19.4],[2013.21,4.1],[2013.24,11.7],[2013.28,6.6],[2013.31,15.3],[2013.36,5.1],[2013.41,11.7],[2013.47,9.2],[2013.54,14.3],[2013.6,6.6],[2013.7,13.3],[2013.9,13.3],[2014.1,16.8],[2014.23,13.3],[2014.29,9.2],[2014.32,4.1],[2014.36,8.2],[2014.39,1.5],[2014.42,10.2],[2014.46,4.1],[2014.49,8.2],[2014.55,6.6],[2014.65,18.4],[2014.72,16.8],[2014.91,11.7],[2014.95,29.6],[2015.08,89.0],[2015.14,5.1],[2015.21,6.6],[2015.28,11.7],[2015.31,5.1],[2015.34,9.2],[2015.37,14.3],[2015.41,4.1],[2015.44,10.2],[2015.47,6.6],[2015.5,16.8],[2015.54,5.1],[2015.6,9.2],[2015.64,16.8],[2015.67,11.7],[2015.8,13.3],[2015.96,17.9],[2016.0,13.3],[2016.26,4.1],[2016.29,11.7],[2016.32,15.3],[2016.36,5.1],[2016.39,9.2],[2016.42,13.3],[2016.46,4.1],[2016.49,10.2],[2016.52,6.6],[2016.55,15.3],[2016.59,8.2],[2016.62,11.7],[2016.65,4.1],[2016.69,9.2],[2016.75,5.1],[2016.82,13.3],[2016.88,14.3],[2016.98,35.7],[2017.18,26.0],[2017.24,11.7],[2017.28,16.8],[2017.31,6.6],[2017.34,18.4],[2017.37,9.2],[2017.41,14.3],[2017.44,5.1],[2017.47,10.2],[2017.54,8.2],[2017.64,8.2],[2017.9,18.4],[2018.13,34.7],[2018.29,21.9],[2018.32,4.1],[2018.36,11.7],[2018.39,6.6],[2018.42,14.3],[2018.46,4.1],[2018.49,10.2],[2018.52,6.6],[2018.55,15.3],[2018.62,9.2],[2018.69,13.3],[2018.82,16.8],[2018.87,23.0],[2018.9,39.8],[2018.93,9.2],[2019.01,21.9],[2019.08,16.8],[2019.14,19.4],[2019.18,11.7],[2019.21,5.1],[2019.24,16.8],[2019.28,4.1],[2019.31,11.7],[2019.34,5.1],[2019.37,14.3],[2019.41,1.5],[2019.44,10.2],[2019.47,4.1],[2019.5,8.2],[2019.54,5.1],[2019.6,6.6],[2019.67,9.2],[2019.73,10.2],[2019.8,9.2],[2019.87,11.7],[2019.92,11.7]];

const seriesData = [area01, area02, area03, area04, area05, area06, area07, area08];

// ---------------- CHART ----------------
const chart = echarts.init(document.getElementById('chart'), null, {renderer: 'canvas'});
const RED = '#d62728';
const AX = '#333333';
const TICKFONT = 'DejaVu Sans';
const gridLeft = 76, gridWidth = 1067, firstTop = 29, step = 107.3, gridH = 64;

const grids = [], xAxes = [], yAxes = [], series = [], graphics = [];
for (let i = 0; i < 8; i++) {
  const top = firstTop + i * step;
  grids.push({left: gridLeft, top: top, width: gridWidth, height: gridH, show: true,
    borderColor: AX, borderWidth: 1, backgroundColor: 'transparent', containLabel: false, outerBoundsMode: 'none'});
  xAxes.push({gridIndex: i, type: 'value', min: xRange[0], max: xRange[1],
    axisLine: {show: false}, splitLine: {show: false},
    axisTick: {show: true, customValues: xTicks, length: 5, lineStyle: {color: AX, width: 1}},
    axisLabel: {show: i === 7, customValues: xTicks, rotate: 30, margin: 8,
      fontFamily: TICKFONT, fontSize: 17, color: '#111', formatter: v => String(v)}});
  yAxes.push({gridIndex: i, type: 'value', min: yRanges[i][0], max: yRanges[i][1],
    axisLine: {show: false}, splitLine: {show: false},
    axisTick: {show: true, customValues: yTicks[i], length: 5, lineStyle: {color: AX, width: 1}},
    axisLabel: {show: true, customValues: yTicks[i], margin: 7,
      fontFamily: TICKFONT, fontSize: 14.5, color: '#111', formatter: v => String(v)}});
  series.push({type: 'line', xAxisIndex: i, yAxisIndex: i, data: seriesData[i],
    symbol: 'circle', symbolSize: 3.5, showSymbol: true, showAllSymbol: true,
    lineStyle: {color: RED, width: 1.2}, itemStyle: {color: RED}, clip: true,
    animation: false, silent: true});
  graphics.push({type: 'text', x: gridLeft + gridWidth / 2 + 4, y: top - 3,
    style: {text: titles[i], font: '18px "DejaVu Sans"', fill: '#111', textAlign: 'center', textVerticalAlign: 'bottom'}});
  graphics.push({type: 'text', x: 1144, y: top + 2,
    style: {text: panelLabels[i], font: '22px "Liberation Sans"', fill: '#111', textAlign: 'right', textVerticalAlign: 'top'}});
}
graphics.push({type: 'text', x: 24, y: 489, rotation: Math.PI / 2,
  style: {text: yAxisName, font: '28px "Liberation Sans"', fill: '#111', textAlign: 'center', textVerticalAlign: 'middle'}});

chart.setOption({
  animation: false,
  backgroundColor: '#ffffff',
  grid: grids,
  xAxis: xAxes,
  yAxis: yAxes,
  series: series,
  graphic: graphics
});
</script>
</body>
</html>
